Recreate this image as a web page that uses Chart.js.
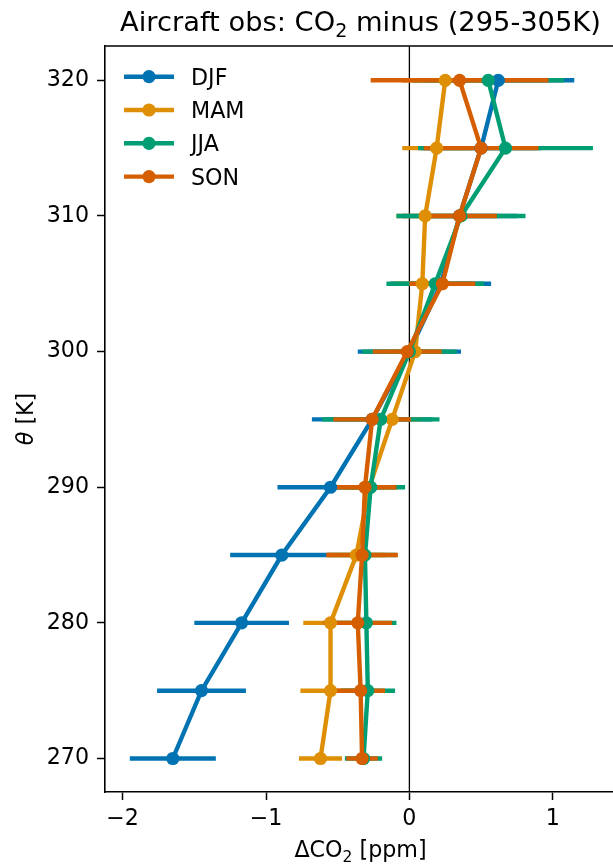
<!DOCTYPE html>
<html>
<head>
<meta charset="utf-8">
<script src="https://cdn.jsdelivr.net/npm/chart.js@4.4.0/dist/chart.umd.min.js"></script>
<style>
  html, body { margin: 0; padding: 0; background: #fff; overflow: hidden; }
  #wrap { width: 616px; height: 866px; }
</style>
</head>
<body>
<div id="wrap"><canvas id="chartCO2" width="616" height="866"></canvas></div>
<script>
// potential temperature levels (K)
const thetaLevels = [270, 275, 280, 285, 290, 295, 300, 305, 310, 315, 320];

// CO2 minus its 295-305K mean (ppm) and the error half-widths, per season
const djfValues = [-1.65, -1.45, -1.17, -0.89, -0.55, -0.26, 0.00, 0.22, 0.35, 0.50, 0.62];
const djfErrors = [0.30, 0.31, 0.33, 0.36, 0.37, 0.42, 0.36, 0.35, 0.40, 0.42, 0.53];
const mamValues = [-0.62, -0.55, -0.55, -0.37, -0.28, -0.12, 0.04, 0.09, 0.11, 0.19, 0.25];
const mamErrors = [0.15, 0.21, 0.19, 0.20, 0.20, 0.20, 0.20, 0.20, 0.20, 0.24, 0.30];
const jjaValues = [-0.32, -0.29, -0.30, -0.31, -0.27, -0.20, 0.00, 0.18, 0.36, 0.67, 0.55];
const jjaErrors = [0.13, 0.19, 0.21, 0.22, 0.24, 0.41, 0.33, 0.34, 0.45, 0.61, 0.53];
const sonValues = [-0.33, -0.34, -0.36, -0.33, -0.31, -0.26, -0.015, 0.23, 0.35, 0.50, 0.35];
const sonErrors = [0.11, 0.17, 0.24, 0.25, 0.22, 0.27, 0.24, 0.23, 0.26, 0.40, 0.62];

const xTicks = [-2, -1, 0, 1];
const yTicks = [270, 280, 290, 300, 310, 320];

const seasons = [
    { label: 'DJF', values: djfValues, errors: djfErrors, color: '#0173b2' },
    { label: 'MAM', values: mamValues, errors: mamErrors, color: '#de8f05' },
    { label: 'JJA', values: jjaValues, errors: jjaErrors, color: '#029e73' },
    { label: 'SON', values: sonValues, errors: sonErrors, color: '#d55e00' }
];

const FONT = '"DejaVu Sans", sans-serif';
const LW = 4.4;
const MARKER_R = 6.6;

// draw text made of pieces, some of them subscript / italic
function richWidth(ctx, parts, size) {
    let w = 0;
    parts.forEach(p => {
        ctx.font = (p.italic ? 'italic ' : '') + (p.sub ? size * 0.7 : size) + 'px ' + FONT;
        w += ctx.measureText(p.t).width;
    });
    return w;
}
function drawRich(ctx, parts, cx, baseline, size) {
    let xPos = cx - richWidth(ctx, parts, size) / 2;
    ctx.textAlign = 'left';
    ctx.textBaseline = 'alphabetic';
    parts.forEach(p => {
        ctx.font = (p.italic ? 'italic ' : '') + (p.sub ? size * 0.7 : size) + 'px ' + FONT;
        ctx.fillText(p.t, xPos, baseline + (p.sub ? size * 0.22 : 0));
        xPos += ctx.measureText(p.t).width;
    });
}

const decorPlugin = {
    id: 'decor',
    beforeDatasetsDraw(chart) {
        const { ctx, chartArea: a, scales: { x, y } } = chart;
        ctx.save();
        ctx.beginPath();
        ctx.rect(a.left, a.top, a.right - a.left, a.bottom - a.top);
        ctx.clip();
        // vertical line at zero
        ctx.strokeStyle = '#000';
        ctx.lineWidth = 1.3;
        ctx.beginPath();
        ctx.moveTo(x.getPixelForValue(0), a.top);
        ctx.lineTo(x.getPixelForValue(0), a.bottom);
        ctx.stroke();
        // horizontal error bars
        seasons.forEach(s => {
            ctx.strokeStyle = s.color;
            ctx.lineWidth = LW;
            ctx.lineCap = 'butt';
            thetaLevels.forEach((t, i) => {
                const py = y.getPixelForValue(t);
                ctx.beginPath();
                ctx.moveTo(x.getPixelForValue(s.values[i] - s.errors[i]), py);
                ctx.lineTo(x.getPixelForValue(s.values[i] + s.errors[i]), py);
                ctx.stroke();
            });
        });
        ctx.restore();
    },
    afterDraw(chart) {
        const { ctx, chartArea: a } = chart;
        ctx.save();
        // top and right spines
        ctx.strokeStyle = '#000';
        ctx.lineWidth = 1.6;
        ctx.beginPath();
        ctx.moveTo(a.left, a.top);
        ctx.lineTo(a.right, a.top);
        ctx.lineTo(a.right, a.bottom);
        ctx.stroke();

        ctx.fillStyle = '#000';
        const cx = (a.left + a.right) / 2;
        drawRich(ctx, [{ t: 'Aircraft obs: CO' }, { t: '2', sub: true }, { t: ' minus (295-305K)' }], cx, 31, 27.3);
        drawRich(ctx, [{ t: '\u0394CO' }, { t: '2', sub: true }, { t: ' [ppm]' }], cx, 857, 22.2);

        ctx.save();
        ctx.translate(33, (a.top + a.bottom) / 2);
        ctx.rotate(-Math.PI / 2);
        drawRich(ctx, [{ t: '\u03b8', italic: true }, { t: ' [K]' }], 0, 0, 22.2);
        ctx.restore();

        // legend
        seasons.forEach((s, i) => {
            const ly = 76.7 + i * 33.3;
            ctx.strokeStyle = s.color;
            ctx.lineWidth = LW;
            ctx.beginPath();
            ctx.moveTo(124, ly);
            ctx.lineTo(174, ly);
            ctx.stroke();
            ctx.fillStyle = s.color;
            ctx.beginPath();
            ctx.arc(149, ly, MARKER_R, 0, Math.PI * 2);
            ctx.fill();
            ctx.fillStyle = '#000';
            ctx.font = '22.2px ' + FONT;
            ctx.textAlign = 'left';
            ctx.textBaseline = 'alphabetic';
            ctx.fillText(s.label, 191, ly + 8.1);
        });
        ctx.restore();
    }
};

const datasets = seasons.map((s, i) => ({
    label: s.label,
    data: thetaLevels.map((t, j) => ({ x: s.values[j], y: t })),
    borderColor: s.color,
    backgroundColor: s.color,
    borderWidth: LW,
    pointRadius: MARKER_R,
    pointHoverRadius: MARKER_R,
    pointBorderWidth: 0,
    showLine: true,
    tension: 0,
    order: seasons.length - i
}));

const axisTick = { family: FONT, size: 22.2 };

new Chart(document.getElementById('chartCO2').getContext('2d'), {
    type: 'scatter',
    data: { datasets: datasets },
    options: {
        responsive: false,
        animation: false,
        devicePixelRatio: 1,
        layout: { autoPadding: false, padding: { top: 46, right: 0, left: 0, bottom: 0 } },
        plugins: {
            legend: { display: false },
            tooltip: { enabled: false },
            title: { display: false }
        },
        scales: {
            x: {
                type: 'linear',
                min: -2.123,
                max: 1.441,
                afterBuildTicks: s => { s.ticks = xTicks.map(v => ({ value: v })); },
                afterFit: s => { s.height = 74; s.paddingLeft = 0; s.paddingRight = 0; },
                ticks: {
                    callback: v => (v < 0 ? '\u2212' + Math.abs(v) : String(v)),
                    font: axisTick,
                    color: '#000',
                    padding: 6,
                    maxRotation: 0,
                    autoSkip: false
                },
                grid: { drawOnChartArea: false, drawTicks: true, tickLength: 8, tickWidth: 1.5, tickColor: '#000' },
                border: { display: true, color: '#000', width: 1.6 }
            },
            y: {
                type: 'linear',
                min: 267.53,
                max: 322.53,
                afterBuildTicks: s => { s.ticks = yTicks.map(v => ({ value: v })); },
                afterFit: s => { s.width = 105; s.paddingTop = 0; s.paddingBottom = 0; },
                ticks: {
                    font: axisTick,
                    color: '#000',
                    padding: 8,
                    autoSkip: false
                },
                grid: { drawOnChartArea: false, drawTicks: true, tickLength: 8, tickWidth: 1.5, tickColor: '#000' },
                border: { display: true, color: '#000', width: 1.6 }
            }
        }
    },
    plugins: [decorPlugin]
});
</script>
</body>
</html>
